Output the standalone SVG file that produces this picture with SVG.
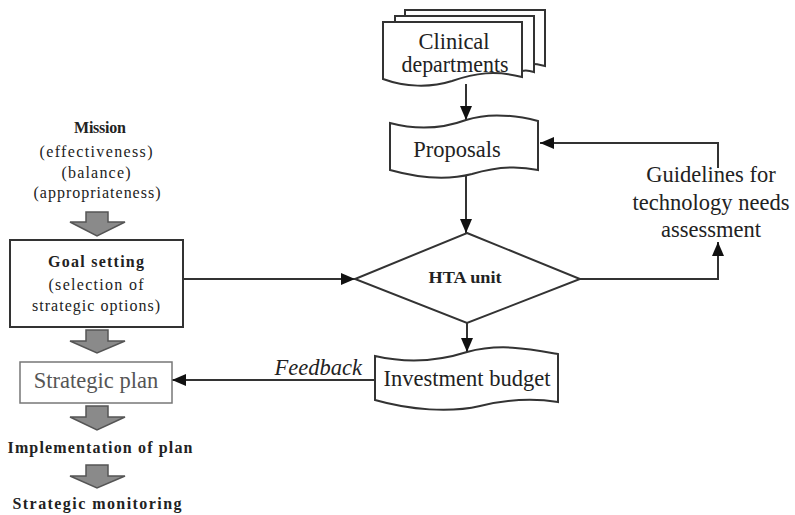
<svg xmlns="http://www.w3.org/2000/svg" width="795" height="515" viewBox="0 0 795 515">
<style>
text{font-family:'Liberation Serif','Times New Roman',serif;fill:#222;text-anchor:middle}
.L{font-size:22.5px}
.s{font-size:16px}
.b{font-weight:bold}
.ln{fill:none;stroke:#333;stroke-width:2}
.sh{fill:#fff;stroke:#333;stroke-width:2}
.blk{fill:#8a8a8a;stroke:#555;stroke-width:1.5}
</style>
<defs>
<marker id="ah2" viewBox="0 0 14 12" refX="14" refY="6" markerWidth="14" markerHeight="12" markerUnits="userSpaceOnUse" orient="auto">
<path d="M0,0 L14,6 L0,12 Z" fill="#111"/>
</marker>
</defs>
<rect width="795" height="515" fill="#fff"/>

<g id="connectors">
<path class="ln" d="M466,84 V120" marker-end="url(#ah2)"/>
<path class="ln" d="M466,174 V233" marker-end="url(#ah2)"/>
<path class="ln" d="M183,279 H355" marker-end="url(#ah2)"/>
<path class="ln" d="M467,323 V352" marker-end="url(#ah2)"/>
<path class="ln" d="M580,279 H718 V242" marker-end="url(#ah2)"/>
<path class="ln" d="M718,168 V143 H540" marker-end="url(#ah2)"/>
<path class="ln" d="M375,380 H172" marker-end="url(#ah2)"/>
<text class="L" x="362" y="375" font-style="italic" style="text-anchor:end">Feedback</text>
</g>

<g id="clinical">
<path class="sh" d="M405,10 H545 V66 C530,62 520,64 512,67 V16 H405 Z"/>
<path class="sh" d="M395,16 H534 V72 C528,70 525,70 522,71 V22 H395 Z"/>
<path class="sh" d="M383,22 H522 V77 C495,70 475,73 452,81 C430,88 405,87 383,79 Z"/>
<text class="L" x="454" y="49">Clinical</text>
<text class="L" x="455" y="72" textLength="107" lengthAdjust="spacingAndGlyphs">departments</text>
</g>

<g id="proposals">
<path class="sh" d="M390,123 C420,131 447,127 466,120 C490,112 518,116 538,121 V170 C515,165 495,167 472,174 C445,181 415,177 390,170 Z"/>
<text class="L" x="457" y="157">Proposals</text>
</g>

<g id="hta">
<path class="sh" d="M467,233 L580,279 L467,323 L355,279 Z"/>
<text class="s b" x="465" y="283" textLength="73" lengthAdjust="spacingAndGlyphs">HTA unit</text>
</g>

<g id="guidelines">
<text class="L" x="711" y="182">Guidelines for</text>
<text class="L" x="711" y="210">technology needs</text>
<text class="L" x="711" y="237">assessment</text>
</g>

<g id="budget">
<path class="sh" d="M375,356 C410,364 442,360 467,352 C500,343 530,349 558,354 V402 C532,398 505,400 480,406 C450,413 410,410 375,400 Z"/>
<text class="L" x="467" y="386">Investment budget</text>
</g>

<g id="mission">
<text class="s b" x="100" y="133" textLength="52" lengthAdjust="spacing">Mission</text>
<text class="s" x="96" y="157" textLength="113" lengthAdjust="spacing">(effectiveness)</text>
<text class="s" x="96" y="178" textLength="69" lengthAdjust="spacing">(balance)</text>
<text class="s" x="97" y="198" textLength="127" lengthAdjust="spacing">(appropriateness)</text>
</g>

<g id="goal">
<rect x="10" y="240" width="173" height="87" fill="#fff" stroke="#333" stroke-width="2"/>
<text class="s b" x="96" y="267" textLength="96" lengthAdjust="spacing">Goal setting</text>
<text class="s" x="96" y="290" textLength="95" lengthAdjust="spacing">(selection of</text>
<text class="s" x="96" y="311" textLength="128" lengthAdjust="spacing">strategic options)</text>
</g>

<g id="strategic-plan">
<rect x="20" y="362" width="152" height="41" fill="#fff" stroke="#777" stroke-width="1.5"/>
<text class="L" x="96" y="388" style="fill:#555">Strategic plan</text>
</g>

<g id="implementation">
<text class="s b" x="100" y="453" textLength="185" lengthAdjust="spacing">Implementation of plan</text>
</g>

<g id="monitoring">
<text class="s b" x="97" y="509" textLength="169" lengthAdjust="spacing">Strategic monitoring</text>
</g>

<g id="block-arrows">
<path class="blk" d="M86,212 H108 V222 H125 L97,236 L70,222 H86 Z"/>
<path class="blk" d="M86,330 H108 V341 H125 L97,353 L70,341 H86 Z"/>
<path class="blk" d="M86,406 H108 V417 H125 L97,430 L70,417 H86 Z"/>
<path class="blk" d="M86,465 H108 V476 H125 L97,488 L70,476 H86 Z"/>
</g>
</svg>
